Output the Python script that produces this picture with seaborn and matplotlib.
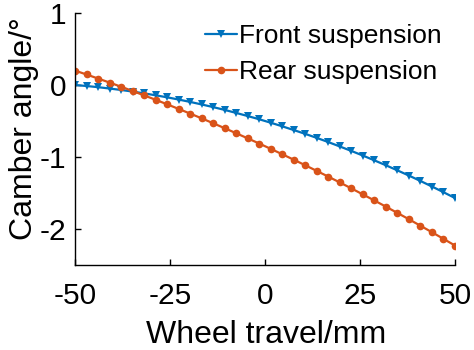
import numpy as np
import pandas as pd
import matplotlib
matplotlib.use("Agg")
import matplotlib.pyplot as plt
import seaborn as sns

x_travel = [-50.0, -46.97, -43.94, -40.91, -37.88, -34.85, -31.82, -28.79, -25.76, -22.73,
            -19.70, -16.67, -13.64, -10.61, -7.58, -4.55, -1.52, 1.52, 4.55, 7.58,
            10.61, 13.64, 16.67, 19.70, 22.73, 25.76, 28.79, 31.82, 34.85, 37.88,
            40.91, 43.94, 46.97, 50.0]
front = [0.00, -0.014, -0.030, -0.049, -0.069, -0.091, -0.116, -0.143, -0.171, -0.202,
         -0.235, -0.270, -0.307, -0.346, -0.388, -0.431, -0.476, -0.524, -0.574, -0.626,
         -0.679, -0.735, -0.793, -0.854, -0.916, -0.980, -1.047, -1.115, -1.186, -1.258,
         -1.333, -1.410, -1.489, -1.570]
rear = [0.200, 0.146, 0.090, 0.034, -0.024, -0.083, -0.144, -0.205, -0.268, -0.332,
        -0.397, -0.463, -0.531, -0.600, -0.670, -0.741, -0.813, -0.887, -0.962, -1.038,
        -1.115, -1.194, -1.273, -1.354, -1.436, -1.520, -1.604, -1.690, -1.777, -1.865,
        -1.955, -2.045, -2.137, -2.230]
series_names = ["Front suspension", "Rear suspension"]
x_ticks = [-50, -25, 0, 25, 50]
y_ticks = [-2, -1, 0, 1]

sns.set_theme(style="white")
plt.rcParams['font.family'] = ['Liberation Sans', 'DejaVu Sans']
plt.rcParams['axes.unicode_minus'] = False
plt.rcParams['text.color'] = 'black'
plt.rcParams['axes.labelcolor'] = 'black'

df = pd.DataFrame({
    "x": x_travel * 2,
    "y": front + rear,
    "s": [series_names[0]] * len(front) + [series_names[1]] * len(rear),
})

fig = plt.figure(figsize=(4.74, 3.5), dpi=100)
ax = fig.add_axes([75/474, 1 - 265/350, (455-75)/474, (265-13)/350])
sns.lineplot(data=df, x="x", y="y", hue="s", style="s",
             palette={series_names[0]: "#0072BD", series_names[1]: "#D95319"},
             markers={series_names[0]: "v", series_names[1]: "o"},
             dashes=False, markersize=5.5, markeredgewidth=0, linewidth=1.6, ax=ax)

ax.set_xlim(-50, 50)
ax.set_ylim(-2.5, 1)
ax.set_xticks(x_ticks)
ax.set_yticks(y_ticks)
ax.tick_params(direction="in", length=4, width=1, labelsize=21.5, colors="black",
               left=True, bottom=True)
ax.tick_params(axis="x", pad=12)
ax.tick_params(axis="y", pad=6.5)
for s in ["top", "right"]:
    ax.spines[s].set_visible(False)
for s in ["left", "bottom"]:
    ax.spines[s].set_color("black")
    ax.spines[s].set_linewidth(1)
ax.set_xlabel("Wheel travel/mm", fontsize=23)
ax.set_ylabel("Camber angle/°", fontsize=23)
ax.xaxis.set_label_coords(0.503, -0.217)
ax.yaxis.set_label_coords(-0.095, 0.54)
leg = ax.legend(title=None, frameon=False, fontsize=19, loc="upper left",
                bbox_to_anchor=(0.342, 0.955), handlelength=1.23, handletextpad=0.05,
                borderaxespad=0, borderpad=0, labelspacing=0.45)
fig.savefig("out.png", dpi=100)
